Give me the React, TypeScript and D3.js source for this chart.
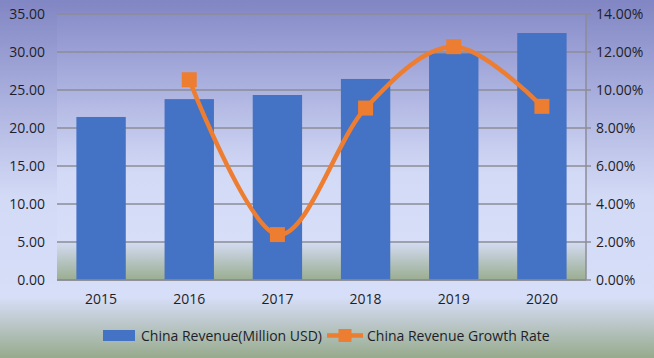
import React from 'react';
import * as d3 from 'd3';

const years = ['2015', '2016', '2017', '2018', '2019', '2020'];
const revenue = [21.45, 23.8, 24.34, 26.45, 29.83, 32.5];
const growth: (number | null)[] = [null, 10.54, 2.39, 9.05, 12.28, 9.14];
const leftTicks = [0, 5, 10, 15, 20, 25, 30, 35];
const rightTicks = [0, 2, 4, 6, 8, 10, 12, 14];
const seriesNames = ['China Revenue(Million USD)', 'China Revenue Growth Rate'];

const W = 654;
const H = 358;
const FONT = "'Open Sans', 'Noto Sans', sans-serif";

export default function App() {
  const left = 57, right = 586, top = 14, bottom = 280;
  const x = d3.scaleBand<string>().domain(years).range([left, right]).paddingInner(0.44).paddingOuter(0.22);
  const yL = d3.scaleLinear().domain([0, 35]).range([bottom, top]);
  const yR = d3.scaleLinear().domain([0, 14]).range([bottom, top]);
  const bw = x.bandwidth();
  const pts = years
    .map((yr, i) => ({ yr, v: growth[i] }))
    .filter((d) => d.v !== null) as { yr: string; v: number }[];
  const line = d3
    .line<{ yr: string; v: number }>()
    .x((d) => (x(d.yr) as number) + bw / 2)
    .y((d) => yR(d.v))
    .curve(d3.curveCatmullRom.alpha(0));
  const gridColor = '#8c8c96';
  const textColor = '#1e1e2a';
  const orange = '#ED7D31';
  const blue = '#4472C4';
  const ms = 15;

  return (
    <svg width={W} height={H} style={{ position: 'fixed', left: 0, top: 0, display: 'block' }}>
      <defs>
        <linearGradient id="bgChart" x1="0" y1="0" x2="0" y2="1">
          <stop offset="0" stopColor="#8186c4" />
          <stop offset="0.55" stopColor="#d3daf6" />
          <stop offset="0.83" stopColor="#d7def8" />
          <stop offset="1" stopColor="#97aa8d" />
        </linearGradient>
        <linearGradient id="bgPlot" x1="0" y1="0" x2="0" y2="1">
          <stop offset="0" stopColor="#8a8fcb" />
          <stop offset="0.6" stopColor="#d3daf6" />
          <stop offset="0.85" stopColor="#d7def8" />
          <stop offset="1" stopColor="#9aad90" />
        </linearGradient>
      </defs>
      <rect x={0} y={0} width={W} height={H} fill="url(#bgChart)" />
      <rect x={left} y={top} width={right - left} height={bottom - top} fill="url(#bgPlot)" />
      {leftTicks.map((t) => (
        <g key={'g' + t}>
          <line x1={left} x2={right} y1={yL(t)} y2={yL(t)} stroke={gridColor} strokeWidth={1.5} />
          <text x={45} y={yL(t)} dy="0.36em" textAnchor="end" fontFamily={FONT} fontSize={14} fill={textColor}>
            {t.toFixed(2)}
          </text>
        </g>
      ))}
      {rightTicks.map((t) => (
        <g key={'r' + t}>
          <line x1={right} x2={right + 5} y1={yR(t)} y2={yR(t)} stroke={gridColor} strokeWidth={1.5} />
          <text x={596} y={yR(t)} dy="0.36em" textAnchor="start" fontFamily={FONT} fontSize={14} fill={textColor}>
            {t.toFixed(2) + '%'}
          </text>
        </g>
      ))}
      <line x1={right} x2={right} y1={top} y2={bottom} stroke={gridColor} strokeWidth={1.5} />
      {years.map((yr, i) => (
        <rect key={'b' + yr} x={x(yr)} y={yL(revenue[i])} width={bw} height={bottom - yL(revenue[i])} fill={blue} />
      ))}
      <line x1={left} x2={right} y1={bottom} y2={bottom} stroke={gridColor} strokeWidth={1.5} />
      {years.map((yr) => (
        <text key={'x' + yr} x={(x(yr) as number) + bw / 2} y={304} textAnchor="middle" fontFamily={FONT} fontSize={14} fill={textColor}>
          {yr}
        </text>
      ))}
      <path d={line(pts) || ''} fill="none" stroke={orange} strokeWidth={4.5} strokeLinejoin="round" />
      {pts.map((d) => (
        <rect
          key={'m' + d.yr}
          x={(x(d.yr) as number) + bw / 2 - ms / 2}
          y={yR(d.v) - ms / 2}
          width={ms}
          height={ms}
          fill={orange}
        />
      ))}
      <g>
        <rect x={103} y={330} width={32} height={11} fill={blue} />
        <text x={141} y={341} fontFamily={FONT} fontSize={14} fill={textColor}>
          {seriesNames[0]}
        </text>
        <line x1={327} x2={363} y1={335.5} y2={335.5} stroke={orange} strokeWidth={4.5} />
        <rect x={345 - 6.5} y={335.5 - 6.5} width={13} height={13} fill={orange} />
        <text x={367} y={341} fontFamily={FONT} fontSize={14} fill={textColor}>
          {seriesNames[1]}
        </text>
      </g>
    </svg>
  );
}
